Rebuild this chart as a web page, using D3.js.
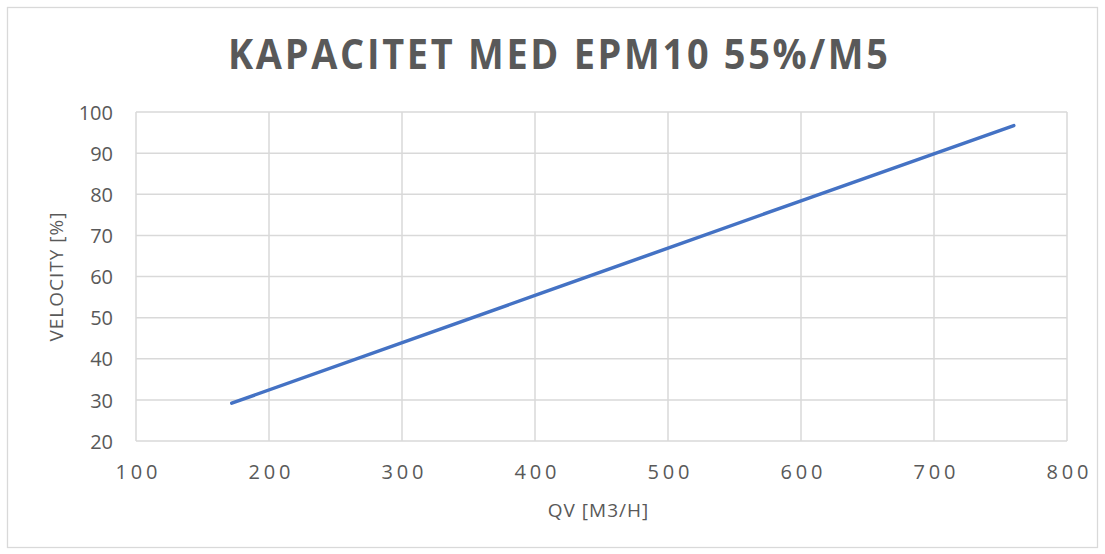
<!DOCTYPE html>
<html>
<head>
<meta charset="utf-8">
<script src="https://cdn.jsdelivr.net/npm/d3@7"></script>
<style>
  body { margin: 0; background: #fff; }
  svg text { font-family: "Open Sans", sans-serif; fill: #595959; }
</style>
</head>
<body>
<div id="chart"></div>
<script>
// values
var qv = [172, 400, 600, 760];
var velocity = [29.2, 55.4, 78.4, 96.7];
var xTicks = [100, 200, 300, 400, 500, 600, 700, 800];
var yTicks = [20, 30, 40, 50, 60, 70, 80, 90, 100];
var title = "KAPACITET MED EPM10 55%/M5";
var xTitle = "QV [M3/H]";
var yTitle = "VELOCITY [%]";

var width = 1105, height = 554;
var plot = {left: 136, right: 1067, top: 112, bottom: 441};

var svg = d3.select("#chart").append("svg")
	.attr("width", width)
	.attr("height", height);

svg.append("rect")
	.attr("x", 7.5).attr("y", 7.5)
	.attr("width", 1090).attr("height", 540)
	.attr("fill", "#fff")
	.attr("stroke", "#d9d9d9")
	.attr("stroke-width", 1.3);

var x = d3.scaleLinear().domain([100, 800]).range([plot.left, plot.right]);
var y = d3.scaleLinear().domain([20, 100]).range([plot.bottom, plot.top]);

// gridlines
var grid = svg.append("g").attr("class", "grid");
grid.selectAll("line.h")
	.data(yTicks)
	.enter().append("line")
	.attr("class", "h")
	.attr("x1", plot.left).attr("x2", plot.right)
	.attr("y1", function(d){ return y(d); })
	.attr("y2", function(d){ return y(d); })
	.attr("stroke", "#d9d9d9").attr("stroke-width", 1.5);
grid.selectAll("line.v")
	.data(xTicks)
	.enter().append("line")
	.attr("class", "v")
	.attr("y1", plot.top).attr("y2", plot.bottom)
	.attr("x1", function(d){ return x(d); })
	.attr("x2", function(d){ return x(d); })
	.attr("stroke", "#d9d9d9").attr("stroke-width", 1.5);

// axes, drawn with d3 axis generators then stripped of lines
var xAxis = svg.append("g")
	.attr("transform", "translate(0," + plot.bottom + ")")
	.call(d3.axisBottom(x).tickValues(xTicks).tickSize(0).tickPadding(38));
var yAxis = svg.append("g")
	.attr("transform", "translate(" + plot.left + ",0)")
	.call(d3.axisLeft(y).tickValues(yTicks).tickSize(0).tickPadding(23));
[xAxis, yAxis].forEach(function(a){
	a.select(".domain").remove();
	a.selectAll("text")
		.attr("fill", "#595959")
		.style("font-family", "Open Sans, sans-serif")
		.style("font-size", "20px");
});
xAxis.selectAll("text")
	.attr("dy", null)
	.style("letter-spacing", "3.8px")
	.attr("dx", "1.9px");
yAxis.selectAll("text").attr("dy", "0.36em");

// series line
var line = d3.line()
	.x(function(d){ return x(d[0]); })
	.y(function(d){ return y(d[1]); });
svg.append("path")
	.datum(qv.map(function(d, i){ return [d, velocity[i]]; }))
	.attr("d", line)
	.attr("fill", "none")
	.attr("stroke", "#4472c4")
	.attr("stroke-width", 3.5)
	.attr("stroke-linecap", "round");

// title: stretched to the reference's extent (x 228..888)
var t = svg.append("text")
	.text(title)
	.attr("x", 0).attr("y", 0)
	.style("font-size", "42px")
	.style("font-weight", "bold")
	.style("letter-spacing", "3px");
var tw = t.node().getComputedTextLength() - 3;
t.attr("transform", "translate(228,69) scale(" + (660 / tw) + ",1)");

svg.append("text")
	.text(xTitle)
	.attr("x", (plot.left + plot.right) / 2 - 3)
	.attr("y", 517)
	.attr("text-anchor", "middle")
	.style("font-size", "19px")
	.style("letter-spacing", "1px");

svg.append("text")
	.text(yTitle)
	.attr("transform", "translate(63," + ((plot.top + plot.bottom) / 2) + ") rotate(-90)")
	.attr("text-anchor", "middle")
	.style("font-size", "19px")
	.style("letter-spacing", "1px");
</script>
</body>
</html>
